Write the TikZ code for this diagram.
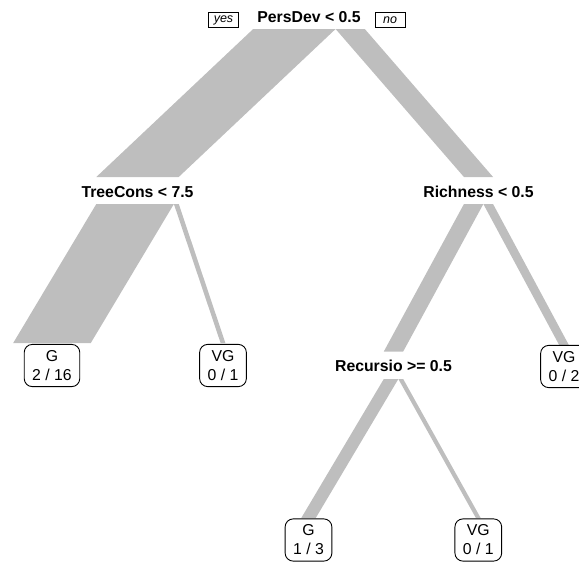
\documentclass[tikz,border=0pt]{standalone}
\usepackage{fontspec}
\setmainfont{Liberation Sans}
\definecolor{brgray}{RGB}{190,190,190}
\begin{document}
\begin{tikzpicture}[x=1pt,y=-1pt,
  splitlab/.style={font=\fontsize{15.8}{19}\selectfont\bfseries, inner sep=0pt},
  leafbox/.style={draw=black, line width=0.9pt, rounded corners=8pt, fill=white,
    align=center, font=\fontsize{15.8}{19}\selectfont, inner xsep=8pt, inner ysep=6pt},
  yn/.style={draw=black, line width=0.7pt, font=\fontsize{12.5}{14}\selectfont\itshape,
    minimum width=30pt, minimum height=15pt, inner sep=1pt},
  branch/.style={fill=brgray, draw=none}]
\useasboundingbox (0,0) rectangle (579,563);

% branches (width proportional to number of observations)
% root -> TreeCons
\coordinate (r1a) at (253.2,29);  \coordinate (r1b) at (335.6,29);
\coordinate (r1c) at (178.7,177); \coordinate (r1d) at (96.3,177);
\fill[branch] (r1a) -- (r1b) -- (r1c) -- (r1d) -- cycle;
% root -> Richness
\coordinate (r2a) at (335.6,29);  \coordinate (r2b) at (364.8,29);
\coordinate (r2c) at (493.05,177); \coordinate (r2d) at (463.95,177);
\fill[branch] (r2a) -- (r2b) -- (r2c) -- (r2d) -- cycle;
% TreeCons -> G 2/16
\coordinate (t1a) at (96.3,204);  \coordinate (t1b) at (173.9,204);
\coordinate (t1c) at (90.8,343);  \coordinate (t1d) at (13.2,343);
\fill[branch] (t1a) -- (t1b) -- (t1c) -- (t1d) -- cycle;
% TreeCons -> VG 0/1
\coordinate (t2a) at (173.9,204); \coordinate (t2b) at (178.75,204);
\coordinate (t2c) at (225.4,343); \coordinate (t2d) at (220.6,343);
\fill[branch] (t2a) -- (t2b) -- (t2c) -- (t2d) -- cycle;
% Richness -> Recursio
\coordinate (h1a) at (463.95,204); \coordinate (h1b) at (483.35,204);
\coordinate (h1c) at (403.2,351.5); \coordinate (h1d) at (383.8,351.5);
\fill[branch] (h1a) -- (h1b) -- (h1c) -- (h1d) -- cycle;
% Richness -> VG 0/2
\coordinate (h2a) at (483.35,204); \coordinate (h2b) at (493.05,204);
\coordinate (h2c) at (568.85,345); \coordinate (h2d) at (559.15,345);
\fill[branch] (h2a) -- (h2b) -- (h2c) -- (h2d) -- cycle;
% Recursio -> G 1/3
\coordinate (c1a) at (383.8,379);  \coordinate (c1b) at (398.35,379);
\coordinate (c1c) at (315.75,518); \coordinate (c1d) at (301.25,518);
\fill[branch] (c1a) -- (c1b) -- (c1c) -- (c1d) -- cycle;
% Recursio -> VG 0/1
\coordinate (c2a) at (398.35,379); \coordinate (c2b) at (403.2,379);
\coordinate (c2c) at (480.7,518);  \coordinate (c2d) at (475.9,518);
\fill[branch] (c2a) -- (c2b) -- (c2c) -- (c2d) -- cycle;

% split nodes
\node[splitlab] (root) at (309,17) {PersDev < 0.5};
\node[yn] (yes) at (223.5,20) {yes};
\node[yn] (no) at (390,20) {no};
\node[splitlab] (tree) at (137.5,192) {TreeCons < 7.5};
\node[splitlab] (rich) at (478.5,192) {Richness < 0.5};
\node[splitlab] (recu) at (393.5,366) {Recursio >= 0.5};

% leaves
\node[leafbox] (l1) at (52,365.5) {G\\2 / 16};
\node[leafbox] (l2) at (223,365.5) {VG\\0 / 1};
\node[leafbox] (l3) at (564,366.5) {VG\\0 / 2};
\node[leafbox] (l4) at (308.5,540) {G\\1 / 3};
\node[leafbox] (l5) at (478.3,540) {VG\\0 / 1};
\end{tikzpicture}
\end{document}
